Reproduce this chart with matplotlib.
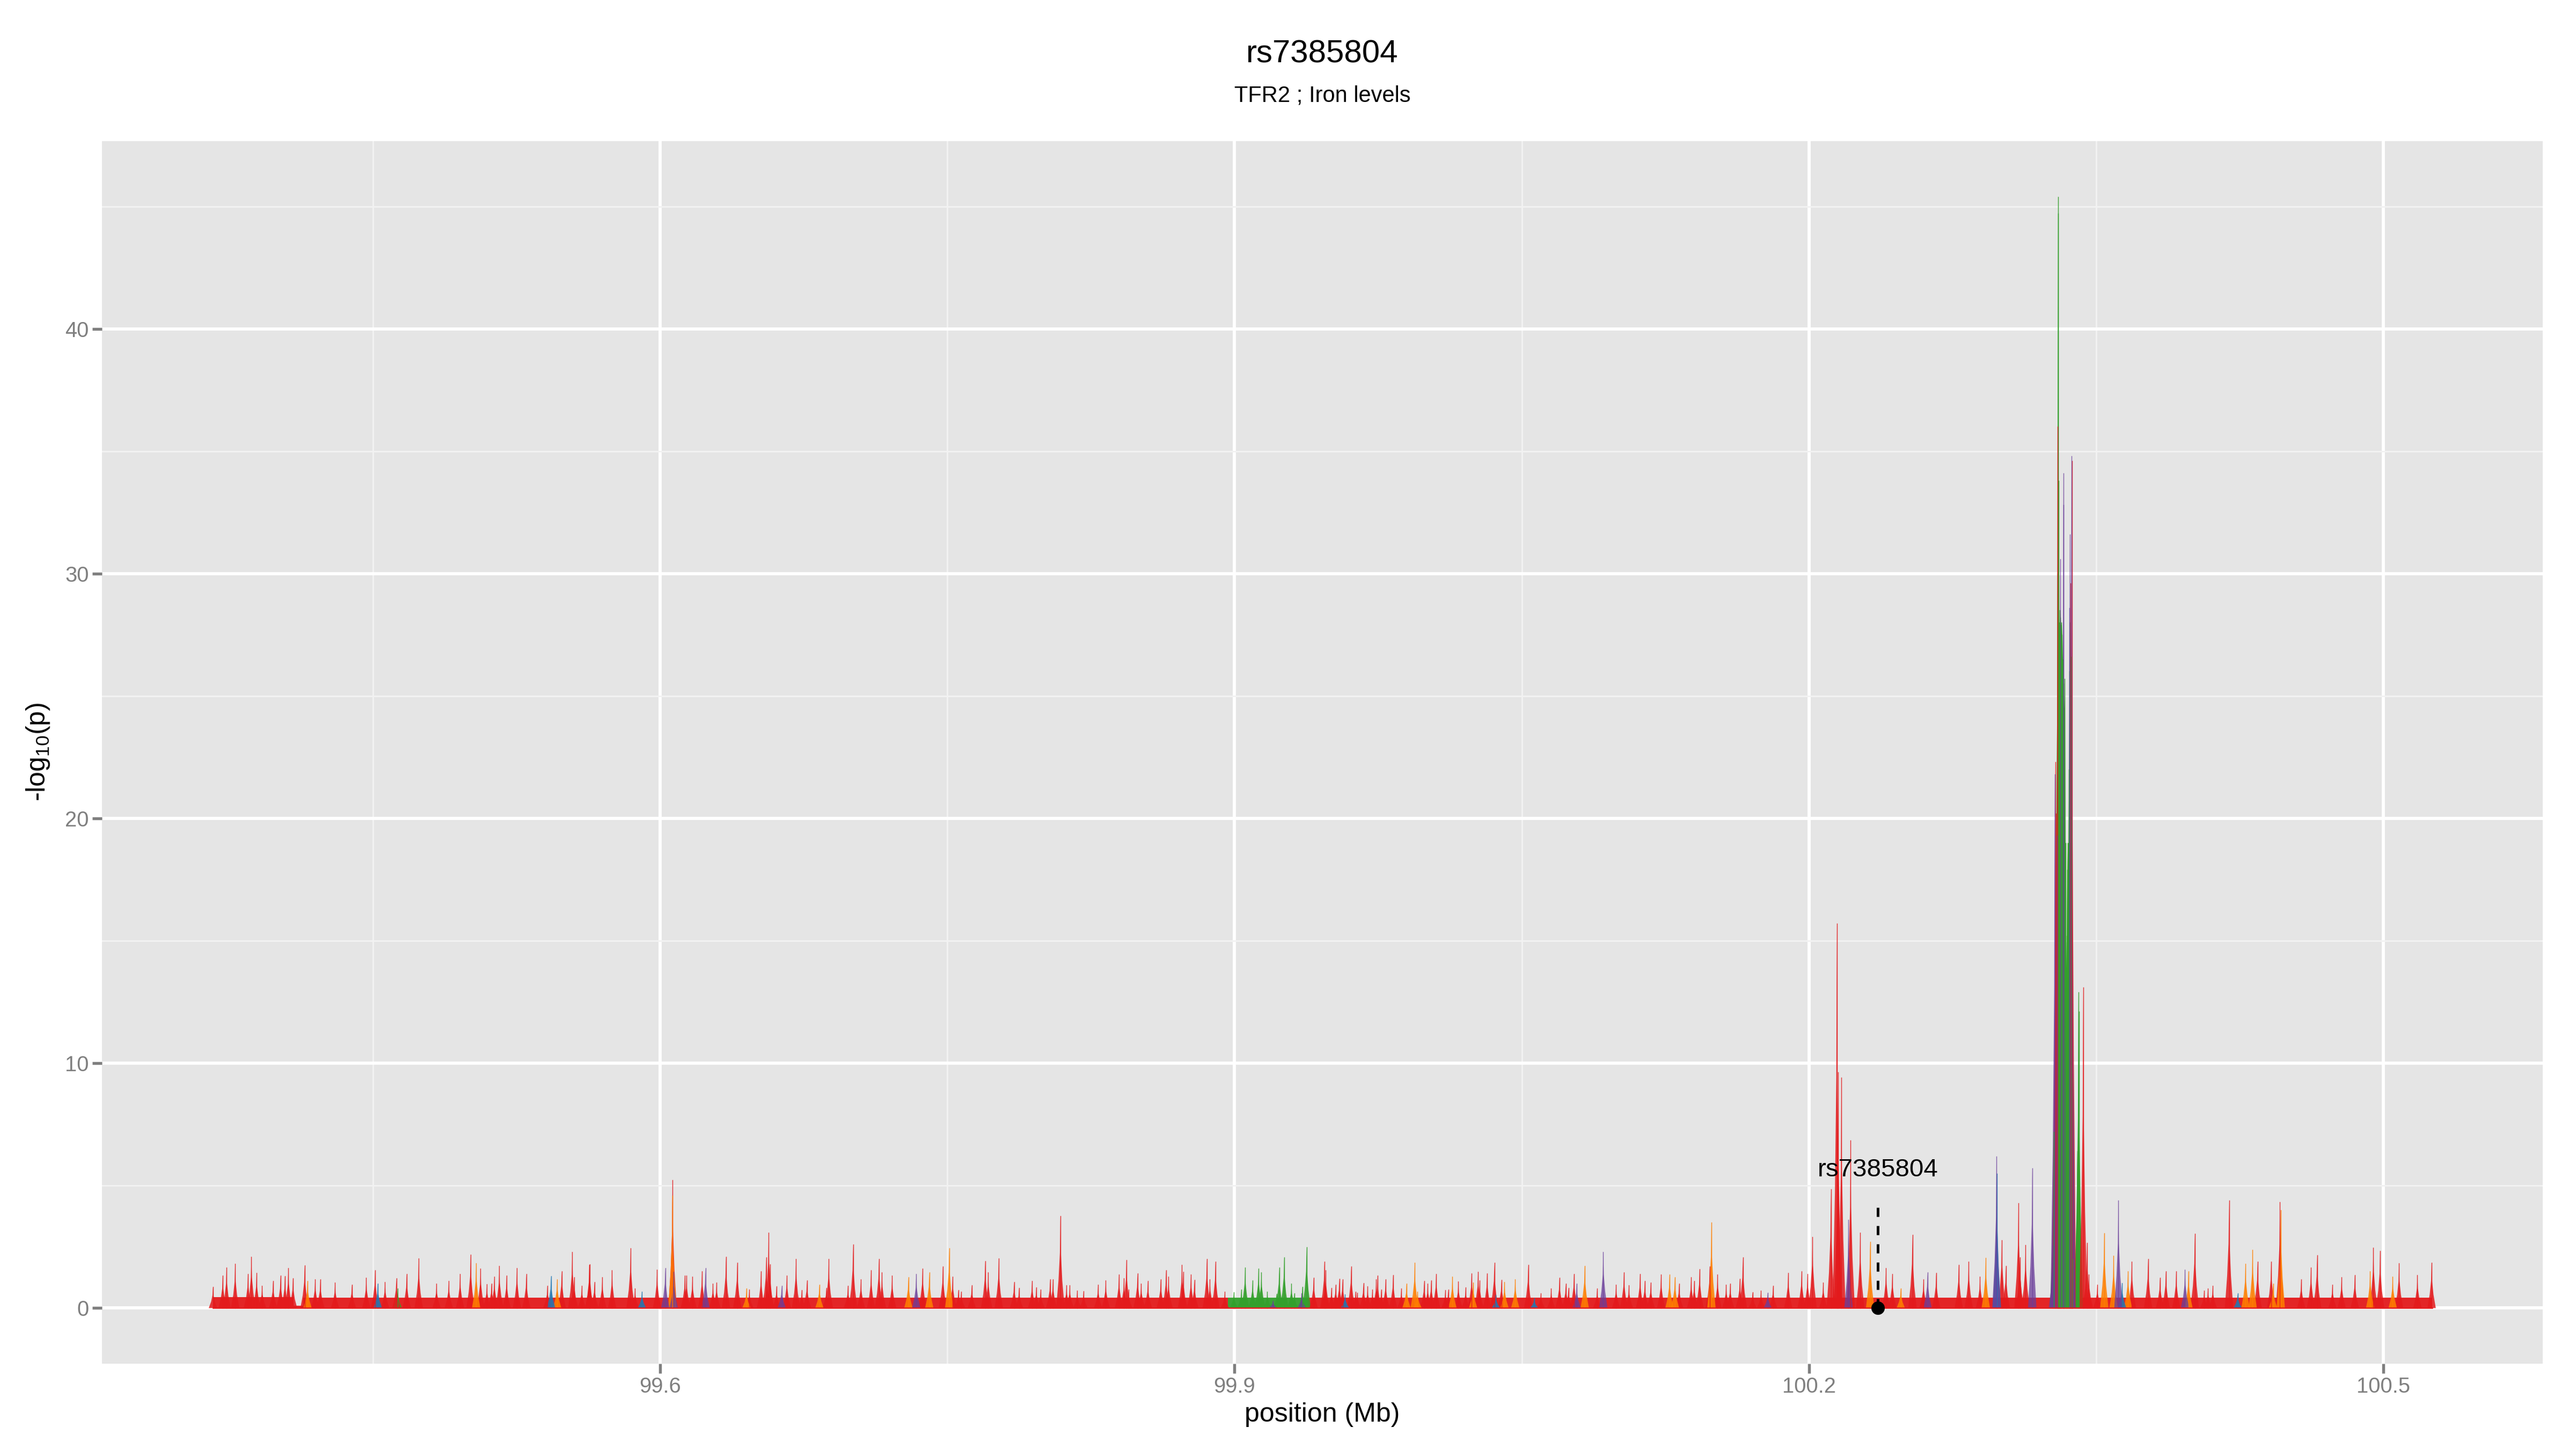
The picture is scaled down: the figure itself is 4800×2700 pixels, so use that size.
import numpy as np
import matplotlib.pyplot as plt

plt.rcParams['font.family'] = ['Liberation Sans', 'DejaVu Sans']
plt.rcParams['mathtext.fontset'] = 'custom'
plt.rcParams['mathtext.rm'] = 'Liberation Sans'
plt.rcParams['mathtext.it'] = 'Liberation Sans:italic'

title = "rs7385804"
subtitle = "TFR2 ; Iron levels"
lead_snp = "rs7385804"
lead_pos = 100.2361
lead_label_y = 5.64
lead_line_top = 4.49

x_ticks = [99.6, 99.9, 100.2, 100.5]
x_tick_labels = ["99.6", "99.9", "100.2", "100.5"]
y_ticks = [0, 10, 20, 30, 40]

# -log10(p) peaks, grouped by colour
red_pos = [
    99.3663, 99.3714, 99.3734, 99.3779, 99.3846, 99.3864, 99.3891, 99.3920, 99.3977, 99.4016,
    99.4039, 99.4057, 99.4081, 99.4142, 99.4197, 99.4224, 99.4301, 99.4389, 99.4464, 99.4510,
    99.4562, 99.4621, 99.4675, 99.4738, 99.4831, 99.4895, 99.4954, 99.5009, 99.5061, 99.5094,
    99.5118, 99.5133, 99.5159, 99.5197, 99.5251, 99.5300, 99.5410, 99.5485, 99.5540, 99.5550,
    99.5629,
    99.5590, 99.5631, 99.5656, 99.5697, 99.5748, 99.5845, 99.5868, 99.5983, 99.6064, 99.6128,
    99.6137, 99.6168, 99.6218, 99.6275, 99.6294, 99.6343, 99.6402, 99.6465, 99.6526, 99.6553,
    99.6566, 99.6573, 99.6607, 99.6661, 99.6709, 99.6739, 99.6766, 99.6867, 99.6880, 99.6980,
    99.7007, 99.7048, 99.7101, 99.7142, 99.7158, 99.7211, 99.7370, 99.7476, 99.7527,
    99.7557, 99.7572, 99.7627, 99.7697, 99.7713, 99.7768, 99.7848, 99.7874, 99.7942, 99.7964,
    99.7987, 99.8036, 99.8051, 99.8090, 99.8122, 99.8139, 99.8178, 99.8211, 99.8287, 99.8327,
    99.8396, 99.8422, 99.8435, 99.8445, 99.8493, 99.8512, 99.8547, 99.8614, 99.8642, 99.8655,
    99.8725, 99.8732, 99.8772, 99.8790, 99.8855, 99.8871, 99.8900, 99.8949, 99.9413, 99.9469,
    99.9476, 99.9506, 99.9528, 99.9547,
    99.9564, 99.9609, 99.9632, 99.9641, 99.9673, 99.9695, 99.9720, 99.9740, 99.9747, 99.9766,
    99.9789, 99.9828, 99.9871, 99.9990, 100.0009, 100.0027, 100.0053, 100.0101, 100.0116, 100.0169,
    100.0207, 100.0238, 100.0272, 100.0280, 100.0319, 100.0357, 100.0394, 100.0534, 100.0600, 100.0654,
    100.0697, 100.0730, 100.0744, 100.0773, 100.0894, 100.0993, 100.1034, 100.1060, 100.1118, 100.1143,
    100.1174, 100.1228, 100.1322, 100.1385, 100.1401, 100.1429, 100.1482,
    100.1523, 100.1568, 100.1589, 100.1639, 100.1655, 100.1706, 100.1750, 100.1813, 100.1892, 100.1962,
    100.1993, 100.2019, 100.2075, 100.2115, 100.2146, 100.2153, 100.2170, 100.2218, 100.2268, 100.2403,
    100.2436, 100.2541, 100.2599, 100.2665, 100.2783, 100.2835, 100.2894, 100.3008, 100.3029, 100.3095,
    100.3102, 100.3132,
    100.3288, 100.3291, 100.3299, 100.3367, 100.3374, 100.3433,
    100.3453, 100.3463, 100.3507, 100.3687, 100.3772, 100.3834, 100.3865, 100.3919, 100.4016, 100.4065,
    100.4085, 100.4110, 100.4195, 100.4344, 100.4415, 100.4461, 100.4572, 100.4623, 100.4655, 100.4735,
    100.4783, 100.4852, 100.4949, 100.4984, 100.5083, 100.5179, 100.5253,
]
red_logp = [
    0.86, 1.33, 1.66, 1.80, 1.40, 2.10, 1.43, 0.90, 1.10, 1.33,
    1.30, 1.64, 1.22, 1.75, 1.18, 1.17, 1.04, 0.96, 1.24, 1.55,
    1.07, 1.22, 1.39, 2.02, 1.00, 1.10, 1.39, 2.17, 1.62, 0.97,
    1.00, 1.27, 1.71, 1.33, 1.64, 1.38, 0.90, 1.50, 2.28, 1.26,
    1.77,
    0.90, 1.78, 1.07, 1.26, 1.54, 2.44, 0.80, 1.56, 5.23, 1.33,
    1.33, 1.27, 1.51, 1.00, 1.05, 2.10, 1.86, 0.76, 1.51, 2.06,
    3.07, 1.78, 0.88, 1.33, 2.00, 0.73, 1.13, 0.82, 2.01, 0.90,
    2.59, 1.17, 1.54, 2.00, 1.45, 1.32, 1.62, 1.70, 1.29,
    0.73, 0.67, 0.93, 1.92, 1.46, 2.02, 1.07, 0.82, 1.11, 0.85,
    0.76, 1.18, 1.17, 3.76, 0.93, 0.93, 0.71, 0.69, 0.96, 1.13,
    1.37, 1.21, 1.95, 0.76, 1.42, 1.00, 1.10, 1.18, 1.55, 1.27,
    1.77, 1.47, 1.37, 1.15, 2.00, 1.18, 1.89, 0.67, 1.24, 1.89,
    1.54, 0.82, 0.96, 1.20,
    1.17, 1.70, 0.67, 0.63, 1.02, 0.88, 0.76, 1.17, 1.33, 0.76,
    1.18, 1.35, 0.80, 1.10, 1.00, 1.13, 1.40, 0.73, 0.75, 1.08,
    0.84, 1.42, 1.48, 1.13, 1.42, 1.84, 1.15, 1.77, 0.60, 0.80,
    1.24, 1.00, 0.83, 1.39, 0.80, 0.96, 1.46, 0.93, 1.39, 1.11,
    1.04, 1.37, 1.00, 1.26, 1.11, 1.59, 1.70,
    1.37, 0.96, 1.00, 1.20, 2.06, 0.65, 0.70, 0.90, 1.43, 1.51,
    1.39, 2.90, 1.04, 4.85, 15.70, 9.63, 9.42, 6.86, 3.08, 1.64,
    1.40, 3.00, 1.17, 1.44, 1.77, 1.90, 1.29, 2.77, 1.73, 4.28,
    2.08, 2.58,
    22.3, 20.2, 36.0, 29.6, 34.6, 13.1,
    2.66, 1.37, 0.96, 1.89, 2.00, 1.24, 1.51, 1.51, 3.03, 0.70,
    0.80, 0.90, 4.40, 1.90, 1.90, 4.33, 1.17, 1.66, 2.15, 0.96,
    1.26, 1.35, 2.46, 2.34, 1.83, 1.35, 1.86,
]

orange_pos = [
    99.4157, 99.5038, 99.5461, 99.6063, 99.6450, 99.6831, 99.7296, 99.7405, 99.7509, 99.9898,
    99.9941, 99.9956, 100.0138, 100.0246, 100.0410, 100.0466, 100.0829, 100.1272, 100.1300, 100.1491,
    100.2320, 100.2480, 100.2924, 100.3543, 100.3592, 100.3667, 100.3983, 100.4281, 100.4318, 100.4425,
    100.4465, 100.4932, 100.5050,
]
orange_logp = [
    1.10, 1.83, 1.18, 4.60, 0.80, 0.96, 1.26, 1.46, 2.44, 1.00,
    1.84, 0.67, 1.29, 1.05, 1.07, 1.18, 1.73, 1.37, 1.26, 3.49,
    2.70, 0.80, 2.05, 3.06, 2.13, 1.50, 1.49, 1.81, 2.37, 1.00,
    4.00, 1.51, 1.29,
]

blue_pos = [99.4524, 99.5429, 99.5904, 99.9577, 100.0365, 100.0565, 100.2982, 100.3636, 100.4240]
blue_logp = [1.00, 1.30, 0.67, 0.55, 0.53, 0.40, 5.50, 1.02, 0.60]

purple_pos = [
    99.6026, 99.6070, 99.6236, 99.6634, 99.7337, 99.9200, 99.9350, 100.0787, 100.0926, 100.1785,
    100.2207, 100.2620, 100.2980, 100.3167, 100.3275, 100.3284, 100.3296, 100.3312, 100.3329, 100.3331,
    100.3361, 100.3363, 100.3371, 100.3617, 100.3965,
]
purple_logp = [
    1.64, 1.48, 1.64, 0.90, 1.39, 0.30, 0.60, 1.00, 2.28, 0.63,
    3.60, 1.46, 6.20, 5.70, 2.56, 21.8, 19.3, 30.6, 34.1, 32.8,
    28.6, 31.6, 34.8, 4.40, 1.56,
]

green_pos = [
    99.4628, 99.8996, 99.9035, 99.9055, 99.9094, 99.9125, 99.9140, 99.9171, 99.9219, 99.9233,
    99.9259, 99.9297, 99.9312, 99.9354, 99.9376,
    100.3281, 100.3299, 100.3301, 100.3303, 100.3305, 100.3307, 100.3309, 100.3311, 100.3314, 100.3317,
    100.3320, 100.3323, 100.3326, 100.3329, 100.3331, 100.3334, 100.3337, 100.3340, 100.3343, 100.3346,
    100.3349, 100.3352, 100.3355, 100.3358, 100.3361, 100.3364, 100.3368, 100.3372, 100.3375, 100.3378,
    100.3395, 100.3402, 100.3408, 100.3411,
]
green_logp = [
    0.80, 0.64, 0.75, 1.66, 1.13, 1.61, 1.46, 0.66, 0.58, 1.65,
    2.06, 1.00, 0.60, 0.87, 2.49,
    7.2, 30.0, 45.4, 44.7, 33.8, 28.0, 27.5, 28.5, 28.2, 27.9,
    28.0, 27.5, 26.5, 25.5, 25.0, 24.5, 25.7, 19.0, 13.9, 15.2,
    17.9, 19.0, 19.0, 22.0, 26.0, 28.0, 26.6, 20.0, 9.4, 2.0,
    1.6, 6.4, 12.9, 12.1,
]

# low dense background of the track
floor_start = [99.3663, 99.4085, 99.4135, 99.8965, 99.9382, 100.3280, 100.3380]
floor_end = [99.4085, 99.4135, 99.8965, 99.9382, 100.3280, 100.3380, 100.5255]
floor_logp = [0.45, 0.10, 0.42, 0.42, 0.42, 0.42, 0.42]
floor_group = ["red", "red", "red", "green", "red", "green", "red"]

colours = {
    "red": "#E31A1C",
    "orange": "#FF7F00",
    "green": "#33A02C",
    "blue": "#1F78B4",
    "purple": "#6A3D9A",
}

shape_x = np.array([-1, -0.45, -0.12, 0, 0.12, 0.45, 1])
shape_y = np.array([0, 0.3, 0.6, 1, 0.6, 0.3, 0])


def draw_spikes(ax, pos, logp, colour, alpha=0.85, w=0.0022):
    for x, h in zip(pos, logp):
        ax.fill(x + w * shape_x, h * shape_y, color=colour, alpha=alpha, lw=0)
        ax.plot([x, x], [0, h], color=colour, alpha=alpha, lw=0.35)


fig = plt.figure(figsize=(16, 9), dpi=300)
ax = fig.add_axes([0.0396, 0.0589, 0.9474, 0.8437])
ax.set_facecolor("#E5E5E5")

for s, e, v, g in zip(floor_start, floor_end, floor_logp, floor_group):
    ax.fill_between([s, e], 0, v, color=colours[g], lw=0, alpha=0.95)

# the dense SNPs of the main signal merge into one solid green block
gp = np.array(green_pos)
gh = np.array(green_logp)
block = (gp > 100.328) & (gp < 100.338)
ax.fill_between(gp[block], 0, np.minimum(gh[block], 28.5), color=colours["green"],
                lw=0, alpha=0.95)

draw_spikes(ax, green_pos, green_logp, colours["green"], alpha=0.9)
draw_spikes(ax, red_pos, red_logp, colours["red"])
draw_spikes(ax, orange_pos, orange_logp, colours["orange"])
draw_spikes(ax, blue_pos, blue_logp, colours["blue"])
draw_spikes(ax, purple_pos, purple_logp, colours["purple"], alpha=0.75)

ax.plot([min(floor_start), max(floor_end)], [0, 0], color="#E31A1C", lw=0.6)

# lead SNP marker
ax.plot([lead_pos, lead_pos], [0, lead_line_top], color="black", lw=1.2,
        ls=(0, (3.4, 3.4)), zorder=5)
ax.plot(lead_pos, 0, "o", color="black", ms=5, zorder=6)
ax.text(lead_pos, lead_label_y, lead_snp, ha="center", va="center", fontsize=11.4)

all_pos = red_pos + orange_pos + blue_pos + purple_pos + green_pos
all_h = red_logp + orange_logp + blue_logp + purple_logp + green_logp
xmin, xmax = min(all_pos), max(all_pos)
ymax = max(all_h)
ax.set_xlim(xmin - 0.05 * (xmax - xmin), xmax + 0.05 * (xmax - xmin))
ax.set_ylim(-0.05 * ymax, ymax * 1.05)

ax.set_xticks(x_ticks)
ax.set_xticklabels(x_tick_labels)
ax.set_yticks(y_ticks)
ax.set_xticks([(a + b) / 2 for a, b in zip(x_ticks[:-1], x_ticks[1:])]
              + [x_ticks[0] - 0.15], minor=True)
ax.set_yticks([5, 15, 25, 35, 45], minor=True)
ax.grid(True, which="major", color="white", lw=1.42)
ax.grid(True, which="minor", color="#F2F2F2", lw=0.71)
ax.set_axisbelow(True)
for sp in ax.spines.values():
    sp.set_visible(False)
ax.tick_params(which="major", length=4.3, width=1.3, color="#7F7F7F",
               labelcolor="#7F7F7F", labelsize=9.6, pad=1.5)
ax.tick_params(which="minor", length=0)

cx = 0.0396 + 0.9474 / 2
fig.text(cx, 0.9626, title, ha="center", va="center", fontsize=14.4)
fig.text(cx, 0.934, subtitle, ha="center", va="center", fontsize=10)
fig.text(cx, 0.0237, "position (Mb)", ha="center", va="center", fontsize=12)
fig.text(0.0147, 0.481, "-log$_{10}$(p)", ha="center", va="center",
         rotation=90, fontsize=12)

plt.savefig("out.png", dpi=300)
